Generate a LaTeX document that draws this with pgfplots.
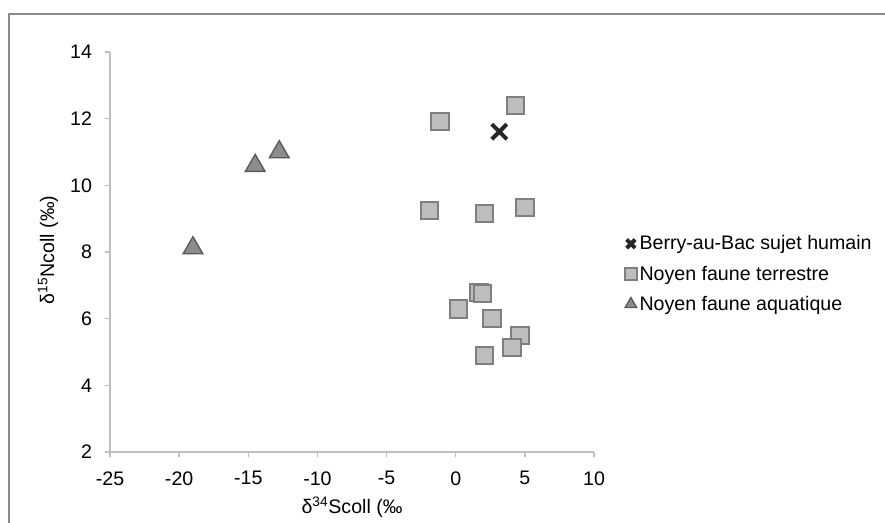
\documentclass[border=0pt]{standalone}
\usepackage{pgfplots}
\pgfplotsset{compat=1.18}
\usepackage{fontspec}
\setmainfont{Liberation Sans}

\definecolor{axgray}{HTML}{BFBFBF}
\definecolor{framegray}{HTML}{8A8A8A}
\definecolor{sqfill}{HTML}{BDBDBD}
\definecolor{sqdraw}{HTML}{7F7F7F}
\definecolor{trfill}{HTML}{8C8C8C}
\definecolor{trdraw}{HTML}{595959}
\definecolor{xcol}{HTML}{262626}

% smaller marker in the legend
\pgfplotsset{
    legmark/.style={legend image code/.code={\draw[##1, mark size=#1] plot coordinates {(0.2cm,0cm)};}},
}

% human sample
\pgfplotstableread{
x y
3.15 11.61
}\humain
% terrestrial fauna
\pgfplotstableread{
x y
4.33 12.39
-1.14 11.92
-1.91 9.25
2.09 9.15
5.03 9.33
1.70 6.79
1.95 6.76
0.21 6.29
2.62 6.01
4.67 5.49
4.07 5.13
2.09 4.90
}\terrestre
% aquatic fauna
\pgfplotstableread{
x y
-19.0 8.12
-14.5 10.59
-12.76 11.00
}\aquatique

\newcommand{\lbl}{\fontsize{14.7}{17}\selectfont}

\begin{document}
\begin{tikzpicture}
\useasboundingbox (0,0) rectangle (663.75pt,391.5pt);
\draw[framegray, line width=1.1pt] (6.75pt,-2pt) -- (6.75pt,381pt) -- (666pt,381pt);
\begin{axis}[
    at={(82.5pt,52.5pt)}, anchor=south west,
    scale only axis,
    width=363pt, height=300pt,
    xmin=-25, xmax=10,
    ymin=2, ymax=14,
    axis x line=bottom,
    axis y line=left,
    axis line style={-, axgray, line width=1pt},
    xtick={-25,-20,...,10},
    ytick={2,4,...,14},
    tick style={axgray, line width=1pt},
    tick align=outside,
    major tick length=4pt,
    /pgf/number format/assume math mode=true,
    tick label style={font=\lbl},
    xticklabel style={yshift=-7pt},
    yticklabel style={xshift=-6pt},
    xlabel={δ\textsuperscript{34}Scoll (‰},
    ylabel={δ\textsuperscript{15}Ncoll (‰)},
    label style={font=\lbl},
    xlabel style={at={(axis description cs:0.5,-0.1375)}, anchor=center},
    ylabel style={at={(axis description cs:-0.128,0.505)}, anchor=center},
    legend style={at={(axis description cs:1.055,0.445)}, anchor=west,
        draw=none, fill=none, font=\lbl, row sep=6.5pt,
        /tikz/every even column/.append style={column sep=6pt}},
    legend cell align=left,
    clip=false,
]
\addplot[only marks, mark=x, mark size=8pt, color=xcol,
    mark options={line width=3pt}, legmark=4.5pt]
    table[x=x, y=y] {\humain};
\addlegendentry{Berry-au-Bac sujet humain}
\addplot[only marks, mark=square*, mark size=6.6pt,
    mark options={draw=sqdraw, fill=sqfill, line width=1.5pt}, legmark=4.5pt]
    table[x=x, y=y] {\terrestre};
\addlegendentry{Noyen faune terrestre}
\addplot[only marks, mark=triangle*, mark size=8.5pt,
    mark options={draw=trdraw, fill=trfill, line width=1pt}, legmark=5pt]
    table[x=x, y=y] {\aquatique};
\addlegendentry{Noyen faune aquatique}
\end{axis}
\end{tikzpicture}
\end{document}
